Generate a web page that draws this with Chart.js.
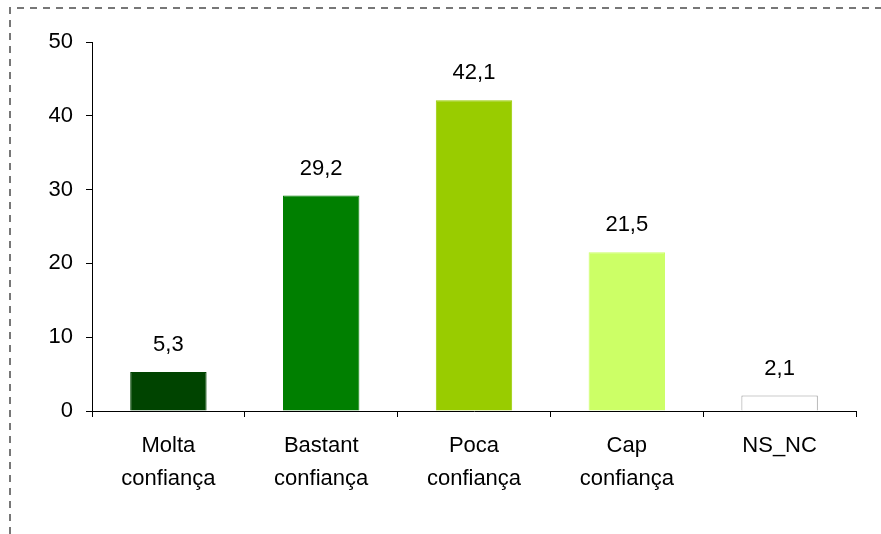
<!DOCTYPE html>
<html>
<head>
<meta charset="utf-8">
<script src="https://cdn.jsdelivr.net/npm/chart.js@4"></script>
<style>
    body { margin: 0; background: #fff; }
    canvas { display: block; }
</style>
</head>
<body>
<canvas id="confChart" width="881" height="534"></canvas>
<script>
// Data
const categories = [['Molta', 'confiança'], ['Bastant', 'confiança'], ['Poca', 'confiança'], ['Cap', 'confiança'], 'NS_NC'];
const values = [5.3, 29.2, 42.1, 21.5, 2.1];
const barColors = ['#004400', '#007F00', '#99CC00', '#CCFF66', '#FFFFFF'];
const borderColors = ['#004400', '#007F00', '#99CC00', '#CCFF66', '#999999'];
const yTicks = [0, 10, 20, 30, 40, 50];

const FONT = 'Liberation Sans, Arial, sans-serif';

// dashed frame round the chart (top + left only are visible)
const framePlugin = {
    id: 'frame',
    beforeDraw(chart) {
        const ctx = chart.ctx;
        ctx.save();
        ctx.strokeStyle = '#777';
        ctx.lineWidth = 2;
        ctx.setLineDash([7, 6]);
        ctx.beginPath();
        ctx.moveTo(10, 534);
        ctx.lineTo(10, 8);
        ctx.lineTo(881, 8);
        ctx.stroke();
        ctx.restore();
    }
};

// value labels above bars
const valueLabels = {
    id: 'valueLabels',
    afterDatasetsDraw(chart) {
        const ctx = chart.ctx;
        const meta = chart.getDatasetMeta(0);
        ctx.save();
        ctx.font = '22px ' + FONT;
        ctx.fillStyle = '#000';
        ctx.textAlign = 'center';
        ctx.textBaseline = 'alphabetic';
        meta.data.forEach((bar, i) => {
            ctx.fillText(values[i].toFixed(1).replace('.', ','), bar.x, bar.y - 21);
        });
        ctx.restore();
    }
};

const ctx = document.getElementById('confChart').getContext('2d');
new Chart(ctx, {
    type: 'bar',
    data: {
        labels: categories,
        datasets: [{
            data: values,
            backgroundColor: barColors,
            borderColor: borderColors,
            borderWidth: 1,
            categoryPercentage: 1,
            barPercentage: 0.5
        }]
    },
    options: {
        responsive: false,
        devicePixelRatio: 1,
        animation: false,
        layout: {
            padding: { top: 42, right: 25, left: 0, bottom: 0 }
        },
        plugins: {
            legend: { display: false },
            tooltip: { enabled: false }
        },
        scales: {
            y: {
                min: 0,
                max: 50,
                afterFit: (scale) => { scale.width = 92; },
                afterBuildTicks: (scale) => { scale.ticks = yTicks.map(v => ({ value: v })); },
                ticks: {
                    color: '#000',
                    padding: 13,
                    font: { family: FONT, size: 22 }
                },
                grid: {
                    drawOnChartArea: false,
                    tickLength: 6,
                    color: '#000'
                },
                border: { color: '#000', width: 1 }
            },
            x: {
                afterFit: (scale) => { scale.height = 123; },
                ticks: {
                    color: '#000',
                    padding: 13,
                    maxRotation: 0,
                    font: { family: FONT, size: 22, lineHeight: 1.48 }
                },
                grid: {
                    offset: true,
                    drawOnChartArea: false,
                    tickLength: 6,
                    color: '#000'
                },
                border: { color: '#000', width: 1 }
            }
        }
    },
    plugins: [framePlugin, valueLabels]
});
</script>
</body>
</html>
